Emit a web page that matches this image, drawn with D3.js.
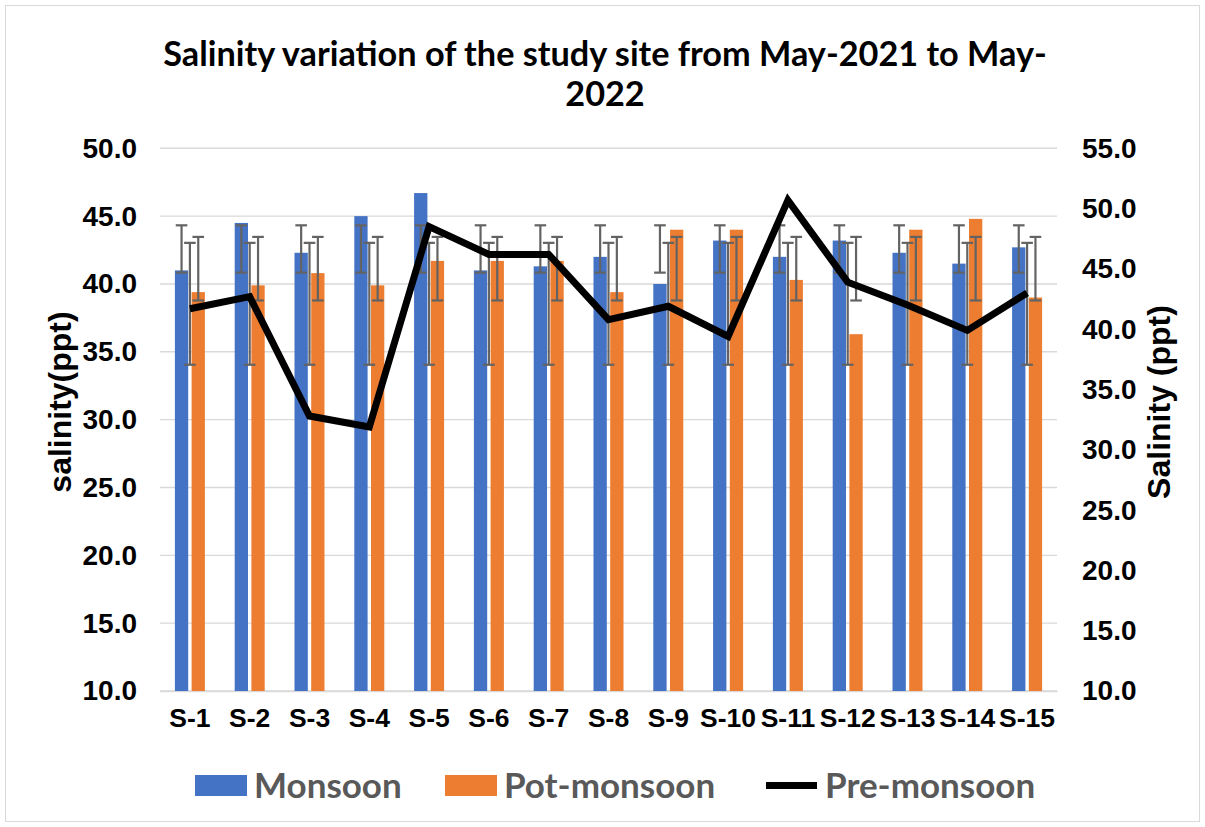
<!DOCTYPE html>
<html>
<head>
<meta charset="utf-8">
<script src="https://cdn.jsdelivr.net/npm/d3@7"></script>
<style>
  html, body { margin: 0; padding: 0; background: #fff; }
  svg { display: block; }
</style>
</head>
<body>
<svg id="chart" width="1205" height="827"></svg>
<script>
// Sampling sites along the x axis
const sites = ["S-1","S-2","S-3","S-4","S-5","S-6","S-7","S-8","S-9","S-10","S-11","S-12","S-13","S-14","S-15"];

// Salinity (ppt) per season, one value per site
const monsoon    = [41.0, 44.5, 42.3, 45.0, 46.7, 41.0, 41.3, 42.0, 40.0, 43.2, 42.0, 43.2, 42.3, 41.5, 42.7];
const potMonsoon = [39.4, 39.9, 40.8, 39.9, 41.7, 41.7, 41.7, 39.4, 44.0, 44.0, 40.3, 36.3, 44.0, 44.8, 39.0];
const preMonsoon = [41.7, 42.7, 32.8, 31.9, 48.5, 46.2, 46.2, 40.8, 41.9, 39.4, 50.7, 43.9, 42.0, 39.9, 43.0];

// Axis ticks
const leftTicks  = [10, 15, 20, 25, 30, 35, 40, 45, 50];
const rightTicks = [10, 15, 20, 25, 30, 35, 40, 45, 50, 55];

const seriesNames = ["Monsoon", "Pot-monsoon", "Pre-monsoon"];
const colors = { bar1: "#4472C4", bar2: "#ED7D31", line: "#000000" };

const svg = d3.select("#chart");

// Outer frame
svg.append("rect")
  .attr("x", 5.5).attr("y", 5.5).attr("width", 1194).attr("height", 816)
  .attr("fill", "#fff").attr("stroke", "#d9d9d9").attr("stroke-width", 1);

const plot = { left: 160, right: 1057, top: 148.3, bottom: 691 };

const x0 = d3.scaleBand().domain(sites).range([plot.left, plot.right]).padding(0);
const groupW = 30;
const x1 = d3.scaleBand().domain(["m", "p"]).range([0, groupW]).paddingInner(0.2036).paddingOuter(0);
const yL = d3.scaleLinear().domain([10, 50]).range([plot.bottom, plot.top]);
const yR = d3.scaleLinear().domain([10, 55]).range([plot.bottom, plot.top]);

const groupStart = s => x0(s) + x0.bandwidth() / 2 - groupW / 2;
const center = s => x0(s) + x0.bandwidth() / 2;

// Horizontal gridlines on the left axis ticks
svg.append("g").selectAll("line")
  .data(leftTicks)
  .join("line")
  .attr("x1", plot.left).attr("x2", plot.right)
  .attr("y1", d => yL(d)).attr("y2", d => yL(d))
  .attr("stroke", "#d9d9d9").attr("stroke-width", 1.4);

const tickFont = "'Liberation Sans', Arial, sans-serif";
const tickSize = 28;

// Left axis labels
const leftAxis = d3.axisLeft(yL).tickValues(leftTicks).tickFormat(d3.format(".1f")).tickSize(0).tickPadding(23);
const gL = svg.append("g").attr("transform", `translate(${plot.left},0)`).call(leftAxis);
gL.select(".domain").remove();
gL.selectAll("text").attr("font-family", tickFont).attr("font-weight", "bold")
  .attr("font-size", tickSize).attr("fill", "#000");

// Right axis labels
const rightAxis = d3.axisRight(yR).tickValues(rightTicks).tickFormat(d3.format(".1f")).tickSize(0).tickPadding(25);
const gR = svg.append("g").attr("transform", `translate(${plot.right},0)`).call(rightAxis);
gR.select(".domain").remove();
gR.selectAll("text").attr("font-family", tickFont).attr("font-weight", "bold")
  .attr("font-size", tickSize).attr("fill", "#000");

// Category axis
const bottomAxis = d3.axisBottom(x0).tickSize(0).tickPadding(17);
const gB = svg.append("g").attr("transform", `translate(0,${plot.bottom})`).call(bottomAxis);
gB.select(".domain").attr("stroke", "#d9d9d9").attr("stroke-width", 1.4);
gB.selectAll("text").attr("font-family", tickFont).attr("font-weight", "bold")
  .attr("font-size", 26.5).attr("fill", "#000");

// Bars
const bars = svg.append("g");
bars.selectAll("rect.m")
  .data(sites.map((s, i) => ({ s, v: monsoon[i] })))
  .join("rect").attr("class", "m")
  .attr("x", d => groupStart(d.s) + x1("m"))
  .attr("width", x1.bandwidth())
  .attr("y", d => yL(d.v))
  .attr("height", d => yL(10) - yL(d.v))
  .attr("fill", colors.bar1);
bars.selectAll("rect.p")
  .data(sites.map((s, i) => ({ s, v: potMonsoon[i] })))
  .join("rect").attr("class", "p")
  .attr("x", d => groupStart(d.s) + x1("p"))
  .attr("width", x1.bandwidth())
  .attr("y", d => yL(d.v))
  .attr("height", d => yL(10) - yL(d.v))
  .attr("fill", colors.bar2);

// Standard-deviation error bars: series mean ± one sample SD, same for every site
function errorBars(values, xPos, scale) {
  const m = d3.mean(values), sd = d3.deviation(values);
  const hi = scale(m + sd), lo = scale(m - sd);
  const g = svg.append("g").attr("stroke", "#636363").attr("stroke-width", 2.2).attr("fill", "none");
  const cap = 5.8;
  sites.forEach(s => {
    const cx = xPos(s);
    g.append("line").attr("x1", cx).attr("x2", cx).attr("y1", hi).attr("y2", lo);
    g.append("line").attr("x1", cx - cap).attr("x2", cx + cap).attr("y1", hi).attr("y2", hi);
    g.append("line").attr("x1", cx - cap).attr("x2", cx + cap).attr("y1", lo).attr("y2", lo);
  });
}
errorBars(monsoon, s => groupStart(s) + x1("m") + x1.bandwidth() / 2, yL);
errorBars(potMonsoon, s => groupStart(s) + x1("p") + x1.bandwidth() / 2, yL);
errorBars(preMonsoon, center, yR);

// Pre-monsoon line on the secondary axis
const line = d3.line().x(d => center(d.s)).y(d => yR(d.v));
svg.append("path")
  .datum(sites.map((s, i) => ({ s, v: preMonsoon[i] })))
  .attr("d", line)
  .attr("fill", "none").attr("stroke", colors.line)
  .attr("stroke-width", 7).attr("stroke-linejoin", "miter");

// Title, first line sized to span 884px
const titleFont = "Lato, 'Open Sans', sans-serif";
const title = svg.append("text")
  .attr("x", 605).attr("text-anchor", "middle")
  .attr("font-family", titleFont).attr("font-weight", "bold").attr("font-size", 30).attr("fill", "#000");
const t1 = title.append("tspan").attr("x", 605).attr("y", 66).text("Salinity variation of the study site from May-2021 to May-");
title.append("tspan").attr("x", 605).attr("y", 106).text("2022");
const w1 = t1.node().getComputedTextLength();
title.attr("font-size", 30 * 884 / w1);

// Axis titles
svg.append("text")
  .attr("transform", `translate(71,402) rotate(-90)`)
  .attr("text-anchor", "middle")
  .attr("font-family", tickFont).attr("font-weight", "bold").attr("font-size", 32).attr("fill", "#000")
  .text("salinity(ppt)");
svg.append("text")
  .attr("transform", `translate(1170,402) rotate(-90)`)
  .attr("text-anchor", "middle")
  .attr("font-family", tickFont).attr("font-weight", "bold").attr("font-size", 32).attr("fill", "#000")
  .text("Salinity (ppt)");

// Legend
const legendItems = [
  { name: seriesNames[0], type: "rect", color: colors.bar1, x: 195 },
  { name: seriesNames[1], type: "rect", color: colors.bar2, x: 445 },
  { name: seriesNames[2], type: "line", color: colors.line, x: 766 }
];
const lg = svg.append("g");
legendItems.forEach(it => {
  if (it.type === "rect") {
    lg.append("rect").attr("x", it.x).attr("y", 775).attr("width", 52).attr("height", 21).attr("fill", it.color);
  } else {
    lg.append("line").attr("x1", it.x).attr("x2", it.x + 51).attr("y1", 785.5).attr("y2", 785.5)
      .attr("stroke", it.color).attr("stroke-width", 7);
  }
  lg.append("text").attr("x", it.x + 59).attr("y", 797.5)
    .attr("font-family", titleFont).attr("font-weight", "bold").attr("font-size", 35).attr("fill", "#595959")
    .text(it.name);
});
</script>
</body>
</html>
